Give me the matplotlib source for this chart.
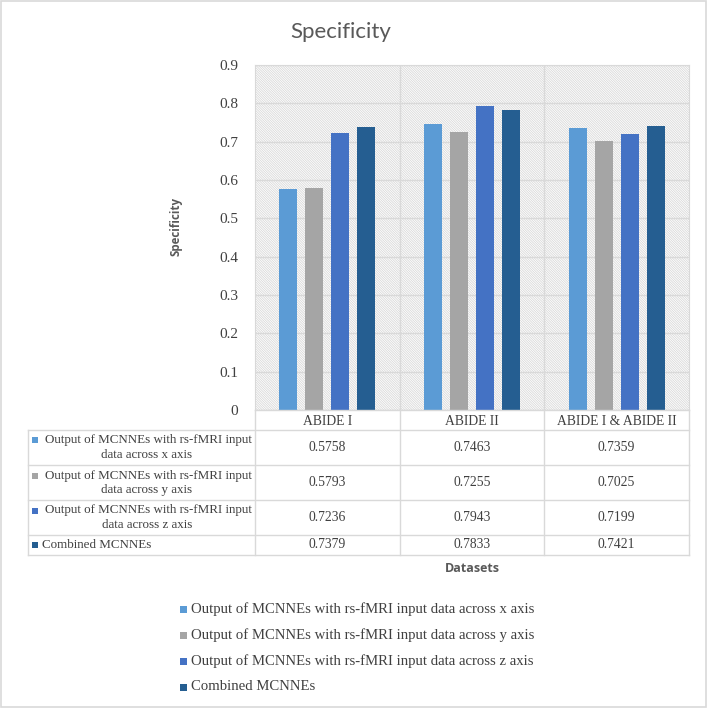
import matplotlib
matplotlib.use("Agg")
import matplotlib.pyplot as plt
from matplotlib.patches import Rectangle
from matplotlib.lines import Line2D
import numpy as np

datasets = ["ABIDE I", "ABIDE II", "ABIDE I & ABIDE II"]
series_names = [
    "Output of MCNNEs with rs-fMRI input data across x axis",
    "Output of MCNNEs with rs-fMRI input data across y axis",
    "Output of MCNNEs with rs-fMRI input data across z axis",
    "Combined MCNNEs",
]
x_axis_vals = [0.5758, 0.7463, 0.7359]
y_axis_vals = [0.5793, 0.7255, 0.7025]
z_axis_vals = [0.7236, 0.7943, 0.7199]
combined_vals = [0.7379, 0.7833, 0.7421]
yticks = [0, 0.1, 0.2, 0.3, 0.4, 0.5, 0.6, 0.7, 0.8, 0.9]

colors = ["#5B9BD5", "#A5A5A5", "#4472C4", "#255E91"]
grid_c = "#d9d9d9"
text_c = "#595959"
serif = "Liberation Serif"

plt.rcParams["hatch.linewidth"] = 0.6
plt.rcParams["hatch.color"] = grid_c

W = H = 708
fig = plt.figure(figsize=(7.08, 7.08), dpi=100)


def fx(x):
    return x / W


def fy(y):
    return 1 - y / H


# outer chart border
fig.add_artist(Rectangle((fx(1), fy(707)), fx(705), 706 / H, transform=fig.transFigure,
                         fill=False, edgecolor=grid_c, linewidth=1.2))

# plot area (pixel box 255..689 x 65..410)
ax = fig.add_axes([fx(255), fy(410), fx(689 - 255), (410 - 65) / H])
ax.add_patch(Rectangle((0, 0), 1, 1, transform=ax.transAxes, facecolor="white",
                       edgecolor=grid_c, hatch="\\" * 14, linewidth=0, zorder=0))

all_vals = [x_axis_vals, y_axis_vals, z_axis_vals, combined_vals]
idx = np.arange(len(datasets))
pitch = 0.18
bw = 0.125
for k, vals in enumerate(all_vals):
    ax.bar(idx + (k - 1.5) * pitch, vals, width=bw, color=colors[k], zorder=3)

ax.set_xlim(-0.5, 2.5)
ax.set_ylim(0, 0.9)
ax.set_yticks(yticks)
ax.set_yticklabels(["0" if t == 0 else f"{t:.1f}" for t in yticks],
                   fontfamily=serif, fontsize=11, color="#404040")
ax.tick_params(axis="y", length=0, pad=12)
ax.set_xticks([])
ax.grid(axis="y", color=grid_c, linewidth=1, zorder=1)
for b in [0.5, 1.5]:
    ax.axvline(b, color=grid_c, linewidth=1, zorder=1)
for s in ax.spines.values():
    s.set_color(grid_c)
ax.spines["bottom"].set_visible(False)

# title and axis titles
fig.text(fx(341), fy(32), "Specificity", fontfamily="Lato", fontsize=16,
         color=text_c, ha="center", va="center")
fig.text(fx(176), fy(226), "Specificity", fontfamily="Open Sans", fontweight="bold",
         fontsize=8.3, color=text_c, rotation=90, ha="center", va="center")
fig.text(fx(472), fy(568), "Datasets", fontfamily="Open Sans", fontweight="bold",
         fontsize=9, color=text_c, ha="center", va="center")

# data table
col_edges = [255, 400, 544, 689]
row_edges = [430, 465, 500, 535, 555]


def hline(y, x0, x1):
    fig.add_artist(Line2D([fx(x0), fx(x1)], [fy(y), fy(y)], transform=fig.transFigure,
                          color=grid_c, linewidth=1))


def vline(x, y0, y1):
    fig.add_artist(Line2D([fx(x), fx(x)], [fy(y0), fy(y1)], transform=fig.transFigure,
                          color=grid_c, linewidth=1))


hline(410, 255, 689)
for y in row_edges:
    hline(y, 28, 689)
vline(28, 430, 555)
for x in col_edges:
    vline(x, 410, 555)

for j, name in enumerate(datasets):
    cx = (col_edges[j] + col_edges[j + 1]) / 2
    fig.text(fx(cx), fy(421), name, fontfamily=serif, fontsize=9.8, color="#404040",
             ha="center", va="center")

for i, vals in enumerate(all_vals):
    cy = (row_edges[i] + row_edges[i + 1]) / 2
    for j, v in enumerate(vals):
        cx = (col_edges[j] + col_edges[j + 1]) / 2
        fig.text(fx(cx), fy(cy), f"{v:.4f}", fontfamily=serif, fontsize=9.8,
                 color="#404040", ha="center", va="center")
    name = series_names[i]
    if "data across" in name:
        first, second = name.split(" data ")
        second = "data " + second
        fig.text(fx(252), fy(cy - 7), first, fontfamily=serif, fontsize=9.4,
                 color="#404040", ha="right", va="center")
        fig.text(fx(147), fy(cy + 7), second, fontfamily=serif, fontsize=9.4,
                 color="#404040", ha="center", va="center")
        my = cy - 7
    else:
        fig.text(fx(42), fy(cy), name, fontfamily=serif, fontsize=9.4,
                 color="#404040", ha="left", va="center")
        my = cy
    fig.add_artist(Rectangle((fx(32), fy(my + 3)), fx(6), 6 / H,
                             transform=fig.transFigure, color=colors[i], linewidth=0))

# legend
leg_y = [609, 635, 661, 687]
for i, name in enumerate(series_names):
    fig.add_artist(Rectangle((fx(180), fy(leg_y[i] + 3.5)), fx(7), 7 / H,
                             transform=fig.transFigure, color=colors[i], linewidth=0))
    fig.text(fx(191), fy(leg_y[i]), name, fontfamily=serif, fontsize=10.6,
             color="#404040", ha="left", va="center")

fig.savefig("out.png", dpi=100)
